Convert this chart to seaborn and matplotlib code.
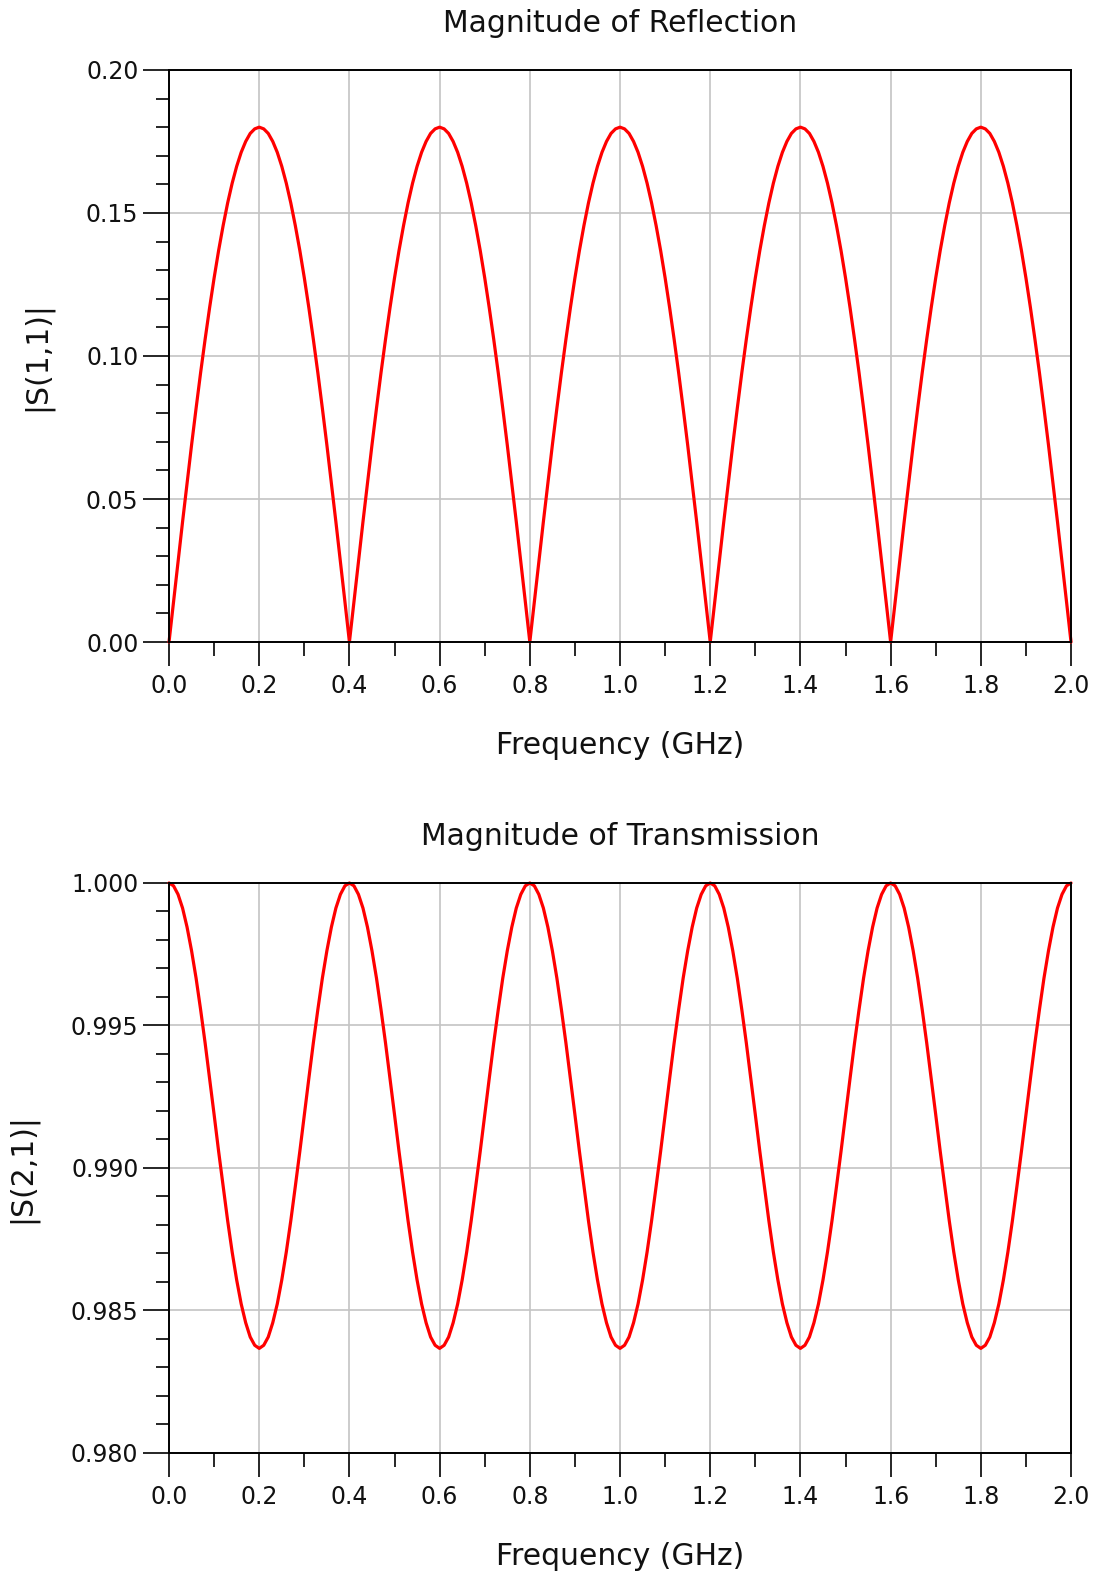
import matplotlib
matplotlib.use("Agg")
import matplotlib.pyplot as plt
from matplotlib.ticker import MultipleLocator, FormatStrFormatter
import seaborn as sns
import pandas as pd

# ─── Data (0.01 GHz steps) ───────────────────────────────────────────────────
FREQ_GHZ = [
    0.00, 0.01, 0.02, 0.03, 0.04, 0.05, 0.06, 0.07, 0.08, 0.09,
    0.10, 0.11, 0.12, 0.13, 0.14, 0.15, 0.16, 0.17, 0.18, 0.19,
    0.20, 0.21, 0.22, 0.23, 0.24, 0.25, 0.26, 0.27, 0.28, 0.29,
    0.30, 0.31, 0.32, 0.33, 0.34, 0.35, 0.36, 0.37, 0.38, 0.39,
    0.40, 0.41, 0.42, 0.43, 0.44, 0.45, 0.46, 0.47, 0.48, 0.49,
    0.50, 0.51, 0.52, 0.53, 0.54, 0.55, 0.56, 0.57, 0.58, 0.59,
    0.60, 0.61, 0.62, 0.63, 0.64, 0.65, 0.66, 0.67, 0.68, 0.69,
    0.70, 0.71, 0.72, 0.73, 0.74, 0.75, 0.76, 0.77, 0.78, 0.79,
    0.80, 0.81, 0.82, 0.83, 0.84, 0.85, 0.86, 0.87, 0.88, 0.89,
    0.90, 0.91, 0.92, 0.93, 0.94, 0.95, 0.96, 0.97, 0.98, 0.99,
    1.00, 1.01, 1.02, 1.03, 1.04, 1.05, 1.06, 1.07, 1.08, 1.09,
    1.10, 1.11, 1.12, 1.13, 1.14, 1.15, 1.16, 1.17, 1.18, 1.19,
    1.20, 1.21, 1.22, 1.23, 1.24, 1.25, 1.26, 1.27, 1.28, 1.29,
    1.30, 1.31, 1.32, 1.33, 1.34, 1.35, 1.36, 1.37, 1.38, 1.39,
    1.40, 1.41, 1.42, 1.43, 1.44, 1.45, 1.46, 1.47, 1.48, 1.49,
    1.50, 1.51, 1.52, 1.53, 1.54, 1.55, 1.56, 1.57, 1.58, 1.59,
    1.60, 1.61, 1.62, 1.63, 1.64, 1.65, 1.66, 1.67, 1.68, 1.69,
    1.70, 1.71, 1.72, 1.73, 1.74, 1.75, 1.76, 1.77, 1.78, 1.79,
    1.80, 1.81, 1.82, 1.83, 1.84, 1.85, 1.86, 1.87, 1.88, 1.89,
    1.90, 1.91, 1.92, 1.93, 1.94, 1.95, 1.96, 1.97, 1.98, 1.99,
    2.00,
]

S11_MAG = [
    0.0000, 0.0141, 0.0282, 0.0420, 0.0556, 0.0689, 0.0817, 0.0941, 0.1058, 0.1169,
    0.1273, 0.1369, 0.1456, 0.1535, 0.1604, 0.1663, 0.1712, 0.1750, 0.1778, 0.1794,
    0.1800, 0.1794, 0.1778, 0.1750, 0.1712, 0.1663, 0.1604, 0.1535, 0.1456, 0.1369,
    0.1273, 0.1169, 0.1058, 0.0941, 0.0817, 0.0689, 0.0556, 0.0420, 0.0282, 0.0141,
    0.0000, 0.0141, 0.0282, 0.0420, 0.0556, 0.0689, 0.0817, 0.0941, 0.1058, 0.1169,
    0.1273, 0.1369, 0.1456, 0.1535, 0.1604, 0.1663, 0.1712, 0.1750, 0.1778, 0.1794,
    0.1800, 0.1794, 0.1778, 0.1750, 0.1712, 0.1663, 0.1604, 0.1535, 0.1456, 0.1369,
    0.1273, 0.1169, 0.1058, 0.0941, 0.0817, 0.0689, 0.0556, 0.0420, 0.0282, 0.0141,
    0.0000, 0.0141, 0.0282, 0.0420, 0.0556, 0.0689, 0.0817, 0.0941, 0.1058, 0.1169,
    0.1273, 0.1369, 0.1456, 0.1535, 0.1604, 0.1663, 0.1712, 0.1750, 0.1778, 0.1794,
    0.1800, 0.1794, 0.1778, 0.1750, 0.1712, 0.1663, 0.1604, 0.1535, 0.1456, 0.1369,
    0.1273, 0.1169, 0.1058, 0.0941, 0.0817, 0.0689, 0.0556, 0.0420, 0.0282, 0.0141,
    0.0000, 0.0141, 0.0282, 0.0420, 0.0556, 0.0689, 0.0817, 0.0941, 0.1058, 0.1169,
    0.1273, 0.1369, 0.1456, 0.1535, 0.1604, 0.1663, 0.1712, 0.1750, 0.1778, 0.1794,
    0.1800, 0.1794, 0.1778, 0.1750, 0.1712, 0.1663, 0.1604, 0.1535, 0.1456, 0.1369,
    0.1273, 0.1169, 0.1058, 0.0941, 0.0817, 0.0689, 0.0556, 0.0420, 0.0282, 0.0141,
    0.0000, 0.0141, 0.0282, 0.0420, 0.0556, 0.0689, 0.0817, 0.0941, 0.1058, 0.1169,
    0.1273, 0.1369, 0.1456, 0.1535, 0.1604, 0.1663, 0.1712, 0.1750, 0.1778, 0.1794,
    0.1800, 0.1794, 0.1778, 0.1750, 0.1712, 0.1663, 0.1604, 0.1535, 0.1456, 0.1369,
    0.1273, 0.1169, 0.1058, 0.0941, 0.0817, 0.0689, 0.0556, 0.0420, 0.0282, 0.0141,
    0.0000,
]

S21_MAG = [
    1.00000, 0.99990, 0.99960, 0.99912, 0.99845, 0.99762, 0.99666, 0.99556, 0.99439, 0.99314,
    0.99187, 0.99058, 0.98935, 0.98815, 0.98705, 0.98607, 0.98523, 0.98457, 0.98407, 0.98378,
    0.98367, 0.98378, 0.98407, 0.98457, 0.98523, 0.98607, 0.98705, 0.98815, 0.98935, 0.99058,
    0.99187, 0.99314, 0.99439, 0.99556, 0.99666, 0.99762, 0.99845, 0.99912, 0.99960, 0.99990,
    1.00000, 0.99990, 0.99960, 0.99912, 0.99845, 0.99762, 0.99666, 0.99556, 0.99439, 0.99314,
    0.99187, 0.99058, 0.98935, 0.98815, 0.98705, 0.98607, 0.98523, 0.98457, 0.98407, 0.98378,
    0.98367, 0.98378, 0.98407, 0.98457, 0.98523, 0.98607, 0.98705, 0.98815, 0.98935, 0.99058,
    0.99187, 0.99314, 0.99439, 0.99556, 0.99666, 0.99762, 0.99845, 0.99912, 0.99960, 0.99990,
    1.00000, 0.99990, 0.99960, 0.99912, 0.99845, 0.99762, 0.99666, 0.99556, 0.99439, 0.99314,
    0.99187, 0.99058, 0.98935, 0.98815, 0.98705, 0.98607, 0.98523, 0.98457, 0.98407, 0.98378,
    0.98367, 0.98378, 0.98407, 0.98457, 0.98523, 0.98607, 0.98705, 0.98815, 0.98935, 0.99058,
    0.99187, 0.99314, 0.99439, 0.99556, 0.99666, 0.99762, 0.99845, 0.99912, 0.99960, 0.99990,
    1.00000, 0.99990, 0.99960, 0.99912, 0.99845, 0.99762, 0.99666, 0.99556, 0.99439, 0.99314,
    0.99187, 0.99058, 0.98935, 0.98815, 0.98705, 0.98607, 0.98523, 0.98457, 0.98407, 0.98378,
    0.98367, 0.98378, 0.98407, 0.98457, 0.98523, 0.98607, 0.98705, 0.98815, 0.98935, 0.99058,
    0.99187, 0.99314, 0.99439, 0.99556, 0.99666, 0.99762, 0.99845, 0.99912, 0.99960, 0.99990,
    1.00000, 0.99990, 0.99960, 0.99912, 0.99845, 0.99762, 0.99666, 0.99556, 0.99439, 0.99314,
    0.99187, 0.99058, 0.98935, 0.98815, 0.98705, 0.98607, 0.98523, 0.98457, 0.98407, 0.98378,
    0.98367, 0.98378, 0.98407, 0.98457, 0.98523, 0.98607, 0.98705, 0.98815, 0.98935, 0.99058,
    0.99187, 0.99314, 0.99439, 0.99556, 0.99666, 0.99762, 0.99845, 0.99912, 0.99960, 0.99990,
    1.00000,
]

TITLES  = ["Magnitude of Reflection", "Magnitude of Transmission"]
YLABELS = ["|S(1,1)|", "|S(2,1)|"]
XLABEL  = "Frequency (GHz)"

# ─── Style ────────────────────────────────────────────────────────────────────
sns.set_theme(style="ticks")
plt.rcParams["font.family"] = ["DejaVu Sans"]
TEXT_COLOR = "#111111"
GRID_COLOR = "#c4c4c4"


def style_axes(ax, ylim, ymajor, yminor, yfmt, title, ylabel):
    ax.set_xlim(0.0, 2.0)
    ax.set_ylim(*ylim)
    ax.xaxis.set_major_locator(MultipleLocator(0.2))
    ax.xaxis.set_minor_locator(MultipleLocator(0.1))
    ax.yaxis.set_major_locator(MultipleLocator(ymajor))
    ax.yaxis.set_minor_locator(MultipleLocator(yminor))
    ax.xaxis.set_major_formatter(FormatStrFormatter("%.1f"))
    ax.yaxis.set_major_formatter(FormatStrFormatter(yfmt))

    ax.grid(True, which="major", color=GRID_COLOR, lw=1.2)
    ax.set_axisbelow(True)
    for sp in ax.spines.values():
        sp.set_visible(True)
        sp.set_color("black")
        sp.set_linewidth(1.4)

    ax.tick_params(axis="x", which="major", length=17, width=1.4, pad=6,
                   labelsize=17, labelcolor=TEXT_COLOR)
    ax.tick_params(axis="x", which="minor", length=10, width=1.4)
    ax.tick_params(axis="y", which="major", length=18.5, width=1.4, pad=3.5,
                   labelsize=17, labelcolor=TEXT_COLOR)
    ax.tick_params(axis="y", which="minor", length=9.5, width=1.4)

    ax.set_title(title, fontsize=21.5, color=TEXT_COLOR, pad=27)
    ax.set_xlabel(XLABEL, fontsize=21.5, color=TEXT_COLOR, labelpad=24)
    ax.set_ylabel(ylabel, fontsize=21.5, color=TEXT_COLOR, labelpad=24)


df = pd.DataFrame({"freq": FREQ_GHZ, "s11": S11_MAG, "s21": S21_MAG})

fig = plt.figure(figsize=(10.94, 15.79), dpi=100)
ax_top = fig.add_axes([0.1545, 0.5934, 0.8245, 0.3623])
ax_bot = fig.add_axes([0.1545, 0.0798, 0.8245, 0.3610])

sns.lineplot(data=df, x="freq", y="s11", ax=ax_top, color="red", lw=2.3,
             clip_on=False)
sns.lineplot(data=df, x="freq", y="s21", ax=ax_bot, color="red", lw=2.3,
             clip_on=False)

style_axes(ax_top, (0.0, 0.20), 0.05, 0.01, "%.2f", TITLES[0], YLABELS[0])
style_axes(ax_bot, (0.980, 1.000), 0.005, 0.001, "%.3f", TITLES[1], YLABELS[1])

fig.savefig("out.png", dpi=100)
